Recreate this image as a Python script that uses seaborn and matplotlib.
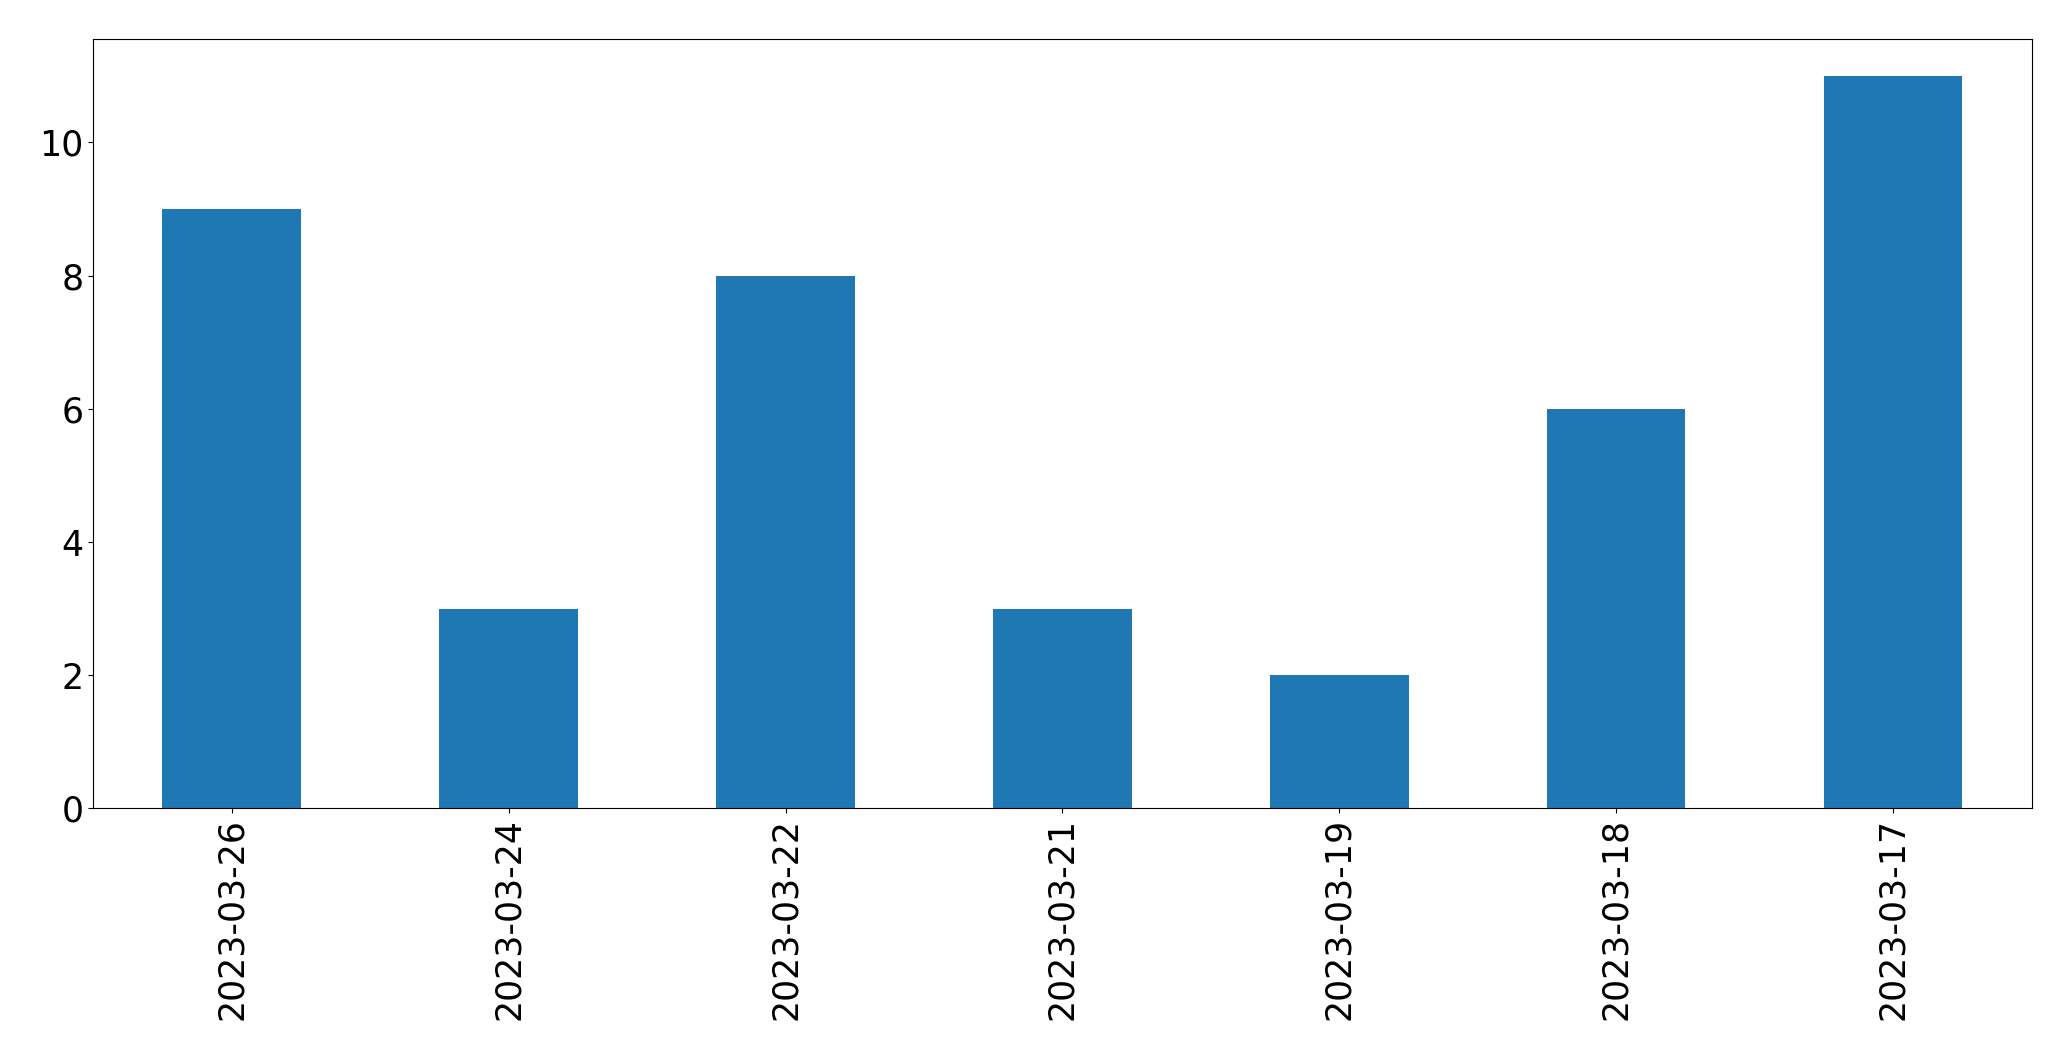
import matplotlib
matplotlib.use("Agg")
import matplotlib.pyplot as plt
import seaborn as sns
import pandas as pd

dates = ["2023-03-26", "2023-03-24", "2023-03-22", "2023-03-21",
         "2023-03-19", "2023-03-18", "2023-03-17"]
counts = [9, 3, 8, 3, 2, 6, 11]

df = pd.DataFrame({"date": dates, "count": counts})

fig, ax = plt.subplots(figsize=(20.71, 10.61), dpi=100)
sns.barplot(data=df, x="date", y="count", order=dates, color="#1f77b4",
            saturation=1, width=0.5, ax=ax)
ax.set_xlabel("")
ax.set_ylabel("")
ax.tick_params(axis="both", labelsize=25)
ax.tick_params(axis="x", labelrotation=90)
fig.subplots_adjust(left=0.045, right=0.981, top=0.963, bottom=0.238)
fig.savefig("out.png", dpi=100)
